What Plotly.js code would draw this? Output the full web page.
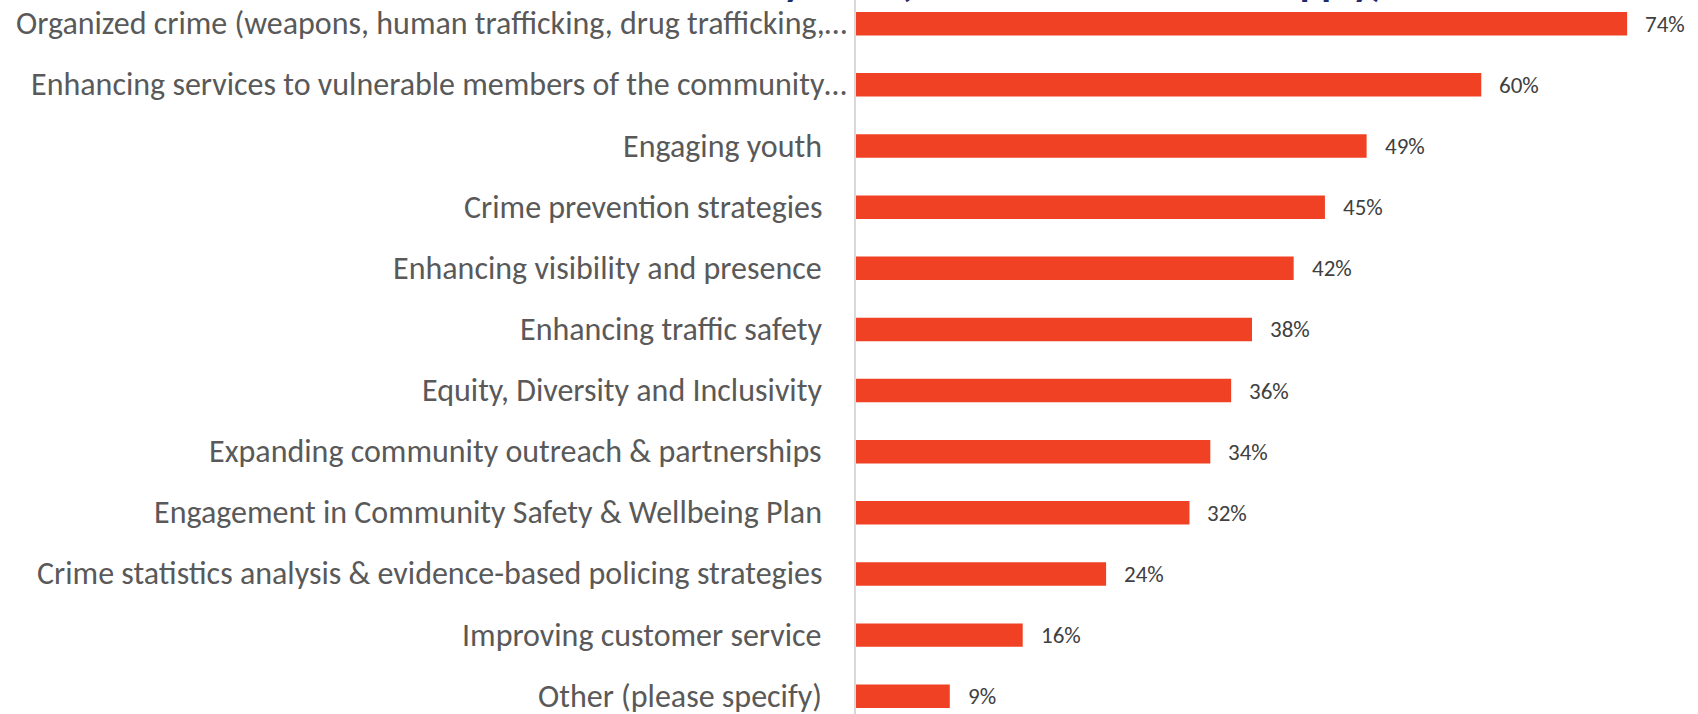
<!DOCTYPE html>
<html><head><meta charset="utf-8">
<script src="https://cdn.plot.ly/plotly-3.0.1.min.js"></script>
<style>html,body{margin:0;padding:0;background:#fff}#chart{width:1698px;height:714px}</style>
</head><body>
<div id="chart"></div>
<script>
const categories = [
  "Organized crime (weapons, human trafficking, drug trafficking,…",
  "Enhancing services to vulnerable members of the community…",
  "Engaging youth",
  "Crime prevention strategies",
  "Enhancing visibility and presence",
  "Enhancing traffic safety",
  "Equity, Diversity and Inclusivity",
  "Expanding community outreach & partnerships",
  "Engagement in Community Safety & Wellbeing Plan",
  "Crime statistics analysis & evidence-based policing strategies",
  "Improving customer service",
  "Other (please specify)"
];
const values = [74, 60, 49, 45, 42, 38, 36, 34, 32, 24, 16, 9];
const chartTitle = "Which areas should the Service focus on in the next three years? (Please choose all that apply)";

const FONT = "Calibri, Carlito, 'Liberation Sans Narrow', sans-serif";

const annotations = [];
categories.forEach((c, i) => {
  const truncated = c.endsWith("…");
  annotations.push({
    x: 0, xref: "x", y: c, yref: "y",
    text: c, showarrow: false,
    xanchor: "right", yanchor: "middle",
    xshift: truncated ? -7 : -32,
    font: {family: FONT, size: 32, color: "#595959"}
  });
  annotations.push({
    x: values[i], xref: "x", y: c, yref: "y",
    text: values[i] + "%", showarrow: false,
    xanchor: "left", yanchor: "middle",
    xshift: 16,
    font: {family: FONT, size: 23, color: "#404040"}
  });
});

const data = [{
  type: "bar",
  orientation: "h",
  x: values,
  y: categories,
  marker: {color: "#F04125"},
  hoverinfo: "none"
}];

const layout = {
  width: 1698, height: 714,
  margin: {l: 856, r: 0, t: 0, b: 0, pad: 0},
  paper_bgcolor: "#ffffff",
  plot_bgcolor: "#ffffff",
  bargap: 0.616,
  showlegend: false,
  title: {
    text: "<b>" + chartTitle + "</b>",
    font: {family: FONT, size: 40, color: "#1F2A6B"},
    x: 1384 / 1698, xanchor: "right", xref: "container",
    y: 1, yanchor: "bottom", yref: "container",
    pad: {t: 0, b: 4, l: 0, r: 0}
  },
  xaxis: {
    range: [0, 80.8],
    showgrid: false, zeroline: false, showline: false,
    showticklabels: false, ticks: "", fixedrange: true
  },
  yaxis: {
    type: "category",
    range: [11.29, -0.388],
    showgrid: false, zeroline: false,
    showline: true, linecolor: "#D9D9D9", linewidth: 2,
    showticklabels: false, ticks: "", fixedrange: true
  },
  annotations: annotations
};

Plotly.newPlot("chart", data, layout, {displayModeBar: false, staticPlot: true});
</script>
</body></html>
